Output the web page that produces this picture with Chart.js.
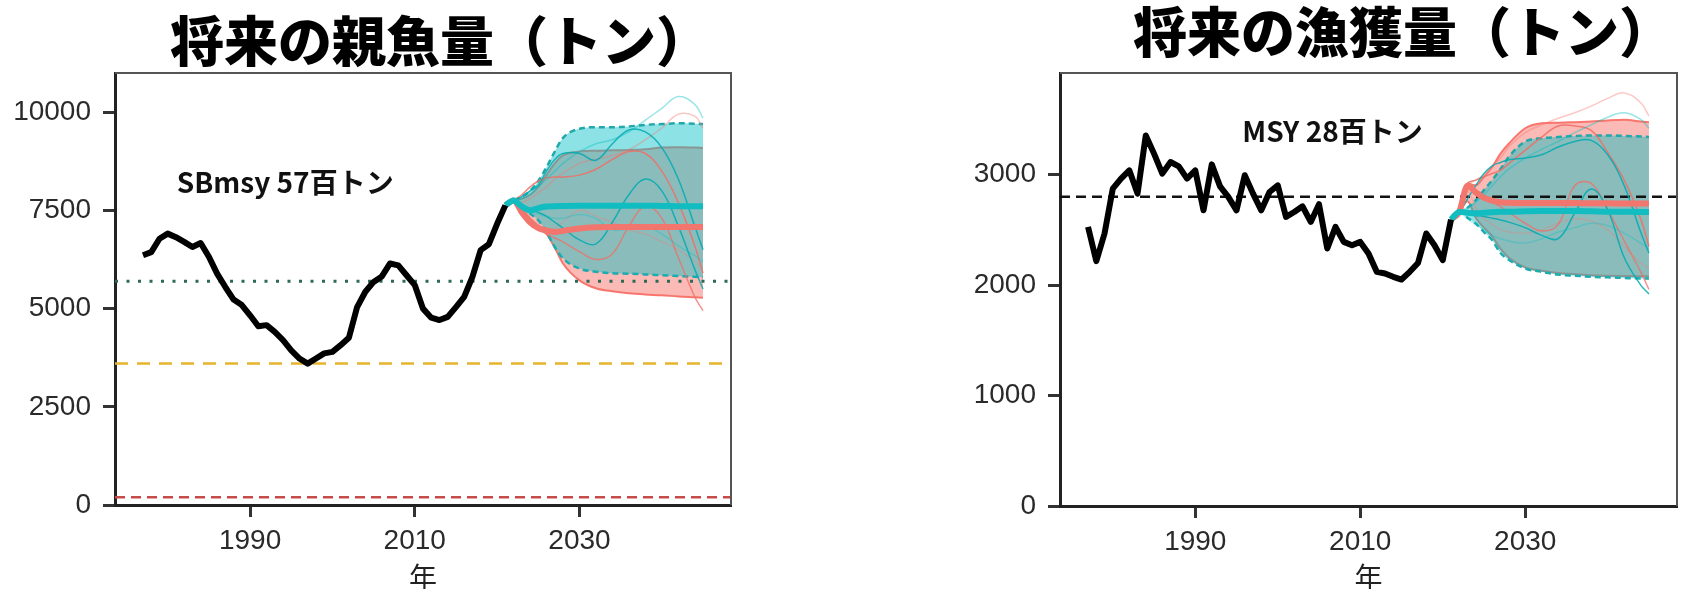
<!DOCTYPE html>
<html>
<head>
<meta charset="utf-8">
<script src="https://cdn.jsdelivr.net/npm/chart.js@4.4.0/dist/chart.umd.min.js"></script>
<style>
  body { margin: 0; background: #fff; width: 1683px; height: 589px; position: relative; overflow: hidden; }
  .title { position: absolute; font-family: "Noto Sans CJK JP"; font-weight: 900; font-size: 54px; line-height: 54px; white-space: nowrap; transform: translateX(-50%); color: #000; }
  #wrap1 { position: absolute; left: 0; top: 0; width: 760px; height: 589px; }
  #wrap2 { position: absolute; left: 880px; top: 0; width: 803px; height: 589px; }
</style>
</head>
<body>
<div class="title" style="left:440px; top:12px">将来の親魚量（トン）</div>
<div class="title" style="left:1403px; top:3px">将来の漁獲量（トン）</div>
<div id="wrap1"><canvas id="ssbChart" width="760" height="589"></canvas></div>
<div id="wrap2"><canvas id="catchChart" width="803" height="589"></canvas></div>
<script>
// observed years
var histYears = [1977, 1978, 1979, 1980, 1981, 1982, 1983, 1984, 1985, 1986, 1987, 1988, 1989, 1990,
    1991, 1992, 1993, 1994, 1995, 1996, 1997, 1998, 1999, 2000, 2001, 2002, 2003, 2004, 2005, 2006,
    2007, 2008, 2009, 2010, 2011, 2012, 2013, 2014, 2015, 2016, 2017, 2018, 2019, 2020, 2021];

var ssbHist = [6360, 6440, 6780, 6910, 6820, 6700, 6570, 6670, 6320, 5890, 5550, 5230, 5090, 4830,
    4550, 4580, 4410, 4200, 3940, 3730, 3600, 3730, 3860, 3900, 4070, 4260, 5040, 5430, 5680, 5820,
    6150, 6100, 5850, 5600, 5000, 4770, 4710, 4790, 5040, 5300, 5810, 6490, 6640, 7160, 7630];

var catchHist = [2527, 2217, 2467, 2873, 2964, 3039, 2828, 3355, 3190, 3009, 3114, 3075, 2964, 3039,
    2677, 3093, 2894, 2798, 2677, 2994, 2828, 2677, 2843, 2903, 2617, 2662, 2713, 2572, 2732, 2331,
    2527, 2391, 2361, 2391, 2286, 2120, 2105, 2075, 2050, 2120, 2200, 2467, 2361, 2226, 2593];

// projection years
var projYears = [2021, 2022, 2023, 2024, 2025, 2026, 2027, 2028, 2030, 2032, 2034, 2036, 2038, 2040, 2042, 2044, 2045];

// spawning biomass projections
var ssbCyanMed = [7630, 7756, 7600, 7500, 7560, 7600, 7610, 7615, 7620, 7620, 7620, 7620, 7620, 7615, 7610, 7610, 7610];
var ssbRedMed  = [7630, 7756, 7450, 7200, 7050, 6990, 6950, 6980, 7040, 7070, 7080, 7080, 7080, 7080, 7080, 7080, 7080];
var ssbCyanUp  = [7630, 7756, 7850, 8000, 8250, 8600, 9000, 9350, 9580, 9620, 9620, 9640, 9680, 9700, 9720, 9710, 9700];
var ssbCyanLo  = [7630, 7756, 7600, 7420, 7250, 6950, 6570, 6280, 6020, 5940, 5900, 5890, 5870, 5850, 5830, 5810, 5800];
var ssbRedUp   = [7630, 7756, 7800, 7900, 8100, 8400, 8700, 8900, 9000, 9020, 9030, 9040, 9060, 9100, 9110, 9100, 9090];
var ssbRedLo   = [7630, 7756, 7550, 7300, 7100, 6900, 6550, 6150, 5720, 5520, 5440, 5390, 5360, 5340, 5310, 5290, 5280];
var ssbCyanA   = [7630, 7756, 7850, 8000, 8150, 8500, 8800, 8950, 8950, 8780, 9200, 9550, 9500, 9100, 8300, 7100, 6500];
var ssbCyanB   = [7630, 7756, 7650, 7550, 7450, 7350, 7200, 7050, 6750, 6650, 7200, 7900, 8300, 8000, 7100, 6000, 5500];
var ssbCyanC   = [7630, 7756, 7800, 7900, 8100, 8300, 8500, 8700, 9000, 9200, 9300, 9500, 9800, 10100, 10400, 10200, 9850];
var ssbCyanD   = [7630, 7756, 7650, 7500, 7400, 7350, 7300, 7300, 7400, 7300, 7000, 7050, 7100, 6900, 6600, 6350, 6200];
var ssbRedA    = [7630, 7756, 7900, 8100, 8250, 8330, 8350, 8350, 8400, 8550, 8800, 9000, 8950, 8500, 7700, 6600, 5900];
var ssbRedB    = [7630, 7756, 7500, 7250, 7050, 6900, 6800, 6700, 6450, 6250, 6400, 7100, 7600, 7300, 6300, 5300, 4950];
var ssbRedC    = [7630, 7756, 7700, 7800, 7950, 8100, 8300, 8450, 8700, 8800, 8900, 9050, 9300, 9600, 9950, 9900, 9600];
var ssbRedD    = [7630, 7756, 7450, 7300, 7150, 7000, 7050, 7200, 7500, 7350, 7200, 7000, 6900, 6700, 6500, 6200, 6000];

// catch projections
var catchCyanMed = [2593, 2662, 2655, 2650, 2655, 2660, 2665, 2665, 2668, 2670, 2670, 2670, 2668, 2665, 2665, 2662, 2662];
var catchRedMed  = [2593, 2662, 2900, 2840, 2790, 2765, 2750, 2745, 2743, 2742, 2742, 2742, 2740, 2740, 2738, 2738, 2738];
var catchCyanUp  = [2593, 2662, 2700, 2770, 2860, 2950, 3050, 3160, 3300, 3330, 3340, 3350, 3355, 3355, 3350, 3345, 3340];
var catchCyanLo  = [2593, 2662, 2610, 2557, 2480, 2406, 2290, 2230, 2150, 2120, 2095, 2085, 2075, 2070, 2065, 2060, 2060];
var catchRedUp   = [2593, 2662, 2919, 2903, 2980, 3069, 3190, 3280, 3420, 3465, 3470, 3475, 3480, 3490, 3496, 3480, 3475];
var catchRedLo   = [2593, 2662, 2760, 2610, 2520, 2440, 2330, 2250, 2160, 2130, 2110, 2100, 2090, 2085, 2082, 2080, 2080];
var catchCyanA   = [2593, 2662, 2780, 2900, 3010, 3080, 3110, 3135, 3150, 3180, 3250, 3300, 3310, 3180, 2900, 2480, 2290];
var catchCyanB   = [2593, 2662, 2640, 2630, 2620, 2605, 2590, 2570, 2520, 2450, 2420, 2650, 2870, 2680, 2250, 2000, 1920];
var catchCyanC   = [2593, 2662, 2700, 2750, 2820, 2900, 2980, 3050, 3150, 3230, 3300, 3380, 3450, 3520, 3560, 3500, 3420];
var catchCyanD   = [2593, 2662, 2600, 2550, 2500, 2450, 2420, 2400, 2380, 2420, 2480, 2520, 2560, 2540, 2470, 2380, 2330];
var catchRedA    = [2593, 2662, 2919, 2950, 2980, 3010, 3040, 3100, 3220, 3340, 3440, 3440, 3400, 3200, 2950, 2600, 2350];
var catchRedB    = [2593, 2662, 2919, 2850, 2790, 2750, 2710, 2660, 2560, 2490, 2550, 2900, 2920, 2680, 2400, 2120, 1960];
var catchRedC    = [2593, 2662, 2900, 2950, 3000, 3080, 3150, 3250, 3380, 3450, 3510, 3560, 3620, 3690, 3740, 3650, 3530];
var catchRedD    = [2593, 2662, 2850, 2700, 2600, 2550, 2500, 2480, 2470, 2500, 2560, 2600, 2580, 2500, 2350, 2200, 2150];

// reference points
var sbTarget = 5700;
var sbLimit = 3600;
var sbBan = 200;
var msyCatch = 2800;

// axes
var xLimits = [1973.6, 2048.4];
var yearTicks = [1990, 2010, 2030];
var ssbTicks = [0, 2500, 5000, 7500, 10000];
var catchTicks = [0, 1000, 2000, 3000];
var ssbMax = 11000;
var catchMax = 3920;

Chart.defaults.font.family = 'Liberation Sans';

var RED = '#F8766D';

function pts(xs, ys) {
    return xs.map(function (x, i) { return {x: x, y: ys[i]}; });
}

function hline(v, color, dash, width) {
    return {data: pts(xLimits, [v, v]), borderColor: color, borderDash: dash, borderWidth: width,
        borderCapStyle: 'butt', pointRadius: 0, fill: false, order: 3};
}

function thin(ys, color) {
    return {data: pts(projYears, ys), borderColor: color, borderWidth: 1.5, pointRadius: 0,
        fill: false, tension: 0.4, order: 2};
}

function projSets(s) {
    return [
        // black observed line on top
        {data: pts(histYears, s.hist), borderColor: '#000', borderWidth: 6, pointRadius: 0,
            borderJoinStyle: 'round', fill: false, order: 0},
        {data: pts(projYears, s.cyanMed), borderColor: '#12BDC1', borderWidth: 6, pointRadius: 0,
            cubicInterpolationMode: 'monotone', fill: false, order: 0.5},
        {data: pts(projYears, s.redMed), borderColor: '#F2766D', borderWidth: 6, pointRadius: 0,
            cubicInterpolationMode: 'monotone', fill: false, order: 1},
        thin(s.cyanA, 'rgba(0,172,178,0.85)'),
        thin(s.cyanB, 'rgba(0,172,178,0.85)'),
        thin(s.cyanC, 'rgba(0,191,196,0.4)'),
        thin(s.cyanD, 'rgba(0,191,196,0.3)'),
        thin(s.redA, 'rgba(240,110,100,0.85)'),
        thin(s.redB, 'rgba(240,110,100,0.75)'),
        thin(s.redC, 'rgba(248,118,109,0.4)'),
        thin(s.redD, 'rgba(248,118,109,0.3)'),
        // cyan band with dashed edges
        {data: pts(projYears, s.cyanUp), borderColor: '#22A8AB', borderWidth: 2.5, borderDash: [6, 4],
            pointRadius: 0, cubicInterpolationMode: 'monotone', fill: '+1',
            backgroundColor: 'rgba(0,191,196,0.45)', order: 4},
        {data: pts(projYears, s.cyanLo), borderColor: '#22A8AB', borderWidth: 2.5, borderDash: [6, 4],
            pointRadius: 0, cubicInterpolationMode: 'monotone', fill: false, order: 4},
        // red band
        {data: pts(projYears, s.redUp), borderColor: RED, borderWidth: 2, pointRadius: 0,
            cubicInterpolationMode: 'monotone', fill: '+1',
            backgroundColor: 'rgba(248,118,109,0.5)', order: 5},
        {data: pts(projYears, s.redLo), borderColor: RED, borderWidth: 2, pointRadius: 0,
            cubicInterpolationMode: 'monotone', fill: false, order: 5}
    ];
}

// top and right edges of the panel
var frame = {
    id: 'frame',
    afterDatasetsDraw: function (chart) {
        var a = chart.chartArea, ctx = chart.ctx;
        ctx.save();
        ctx.strokeStyle = '#555';
        ctx.lineWidth = 2;
        ctx.beginPath();
        ctx.moveTo(a.left, a.top);
        ctx.lineTo(a.right, a.top);
        ctx.lineTo(a.right, a.bottom);
        ctx.stroke();
        ctx.restore();
    }
};

// text note in data coordinates
var note = {
    id: 'note',
    afterDatasetsDraw: function (chart, args, opts) {
        var ctx = chart.ctx;
        ctx.save();
        ctx.font = 'bold 28px "Noto Sans CJK JP"';
        ctx.fillStyle = '#111';
        ctx.textBaseline = 'middle';
        ctx.textAlign = 'left';
        ctx.fillText(opts.text, chart.scales.x.getPixelForValue(opts.x), chart.scales.y.getPixelForValue(opts.y));
        ctx.restore();
    }
};

function makeChart(id, sets, yMax, yTicks, yWidth, xHeight, padRight, noteOpts) {
    return new Chart(document.getElementById(id), {
        type: 'line',
        data: {datasets: sets},
        plugins: [frame, note],
        options: {
            responsive: false,
            animation: false,
            layout: {padding: {top: 73, right: padRight, bottom: 0, left: 0}},
            plugins: {legend: {display: false}, tooltip: {enabled: false}, note: noteOpts},
            scales: {
                x: {
                    type: 'linear', min: xLimits[0], max: xLimits[1],
                    afterBuildTicks: function (s) { s.ticks = yearTicks.map(function (v) { return {value: v}; }); },
                    afterFit: function (s) { s.height = xHeight; },
                    ticks: {callback: function (v) { return String(v); }, color: '#2a2a2a',
                        font: {size: 28}, padding: 7, maxRotation: 0},
                    grid: {drawOnChartArea: false, tickLength: 12, tickWidth: 3, tickColor: '#333'},
                    border: {color: '#222', width: 3},
                    title: {display: true, text: '年', color: '#222',
                        font: {family: 'Noto Sans CJK JP', size: 28}, padding: {top: 0, bottom: -5}}
                },
                y: {
                    type: 'linear', min: 0, max: yMax,
                    afterBuildTicks: function (s) { s.ticks = yTicks.map(function (v) { return {value: v}; }); },
                    afterFit: function (s) { s.width = yWidth; },
                    ticks: {callback: function (v) { return String(v); }, color: '#2a2a2a',
                        font: {size: 28}, padding: 12},
                    grid: {drawOnChartArea: false, tickLength: 12, tickWidth: 3, tickColor: '#333'},
                    border: {color: '#222', width: 3}
                }
            }
        }
    });
}

var ssbSets = projSets({
    hist: ssbHist, cyanMed: ssbCyanMed, redMed: ssbRedMed,
    cyanUp: ssbCyanUp, cyanLo: ssbCyanLo, redUp: ssbRedUp, redLo: ssbRedLo,
    cyanA: ssbCyanA, cyanB: ssbCyanB, cyanC: ssbCyanC, cyanD: ssbCyanD,
    redA: ssbRedA, redB: ssbRedB, redC: ssbRedC, redD: ssbRedD
});
ssbSets.push(hline(sbTarget, '#2d6a55', [3, 8.5], 3));
ssbSets.push(hline(sbLimit, '#E6B42C', [13, 9], 2.5));
ssbSets.push(hline(sbBan, '#C94A4A', [10, 6], 2.5));

var catchSets = projSets({
    hist: catchHist, cyanMed: catchCyanMed, redMed: catchRedMed,
    cyanUp: catchCyanUp, cyanLo: catchCyanLo, redUp: catchRedUp, redLo: catchRedLo,
    cyanA: catchCyanA, cyanB: catchCyanB, cyanC: catchCyanC, cyanD: catchCyanD,
    redA: catchRedA, redB: catchRedB, redC: catchRedC, redD: catchRedD
});
catchSets.push(hline(msyCatch, '#111', [10, 6], 2.5));

makeChart('ssbChart', ssbSets, ssbMax, ssbTicks, 115, 84, 29, {text: 'SBmsy 57百トン', x: 1981.1, y: 8214});
makeChart('catchChart', catchSets, catchMax, catchTicks, 180, 83, 6, {text: 'MSY 28百トン', x: 1995.7, y: 3391});
</script>
</body>
</html>
